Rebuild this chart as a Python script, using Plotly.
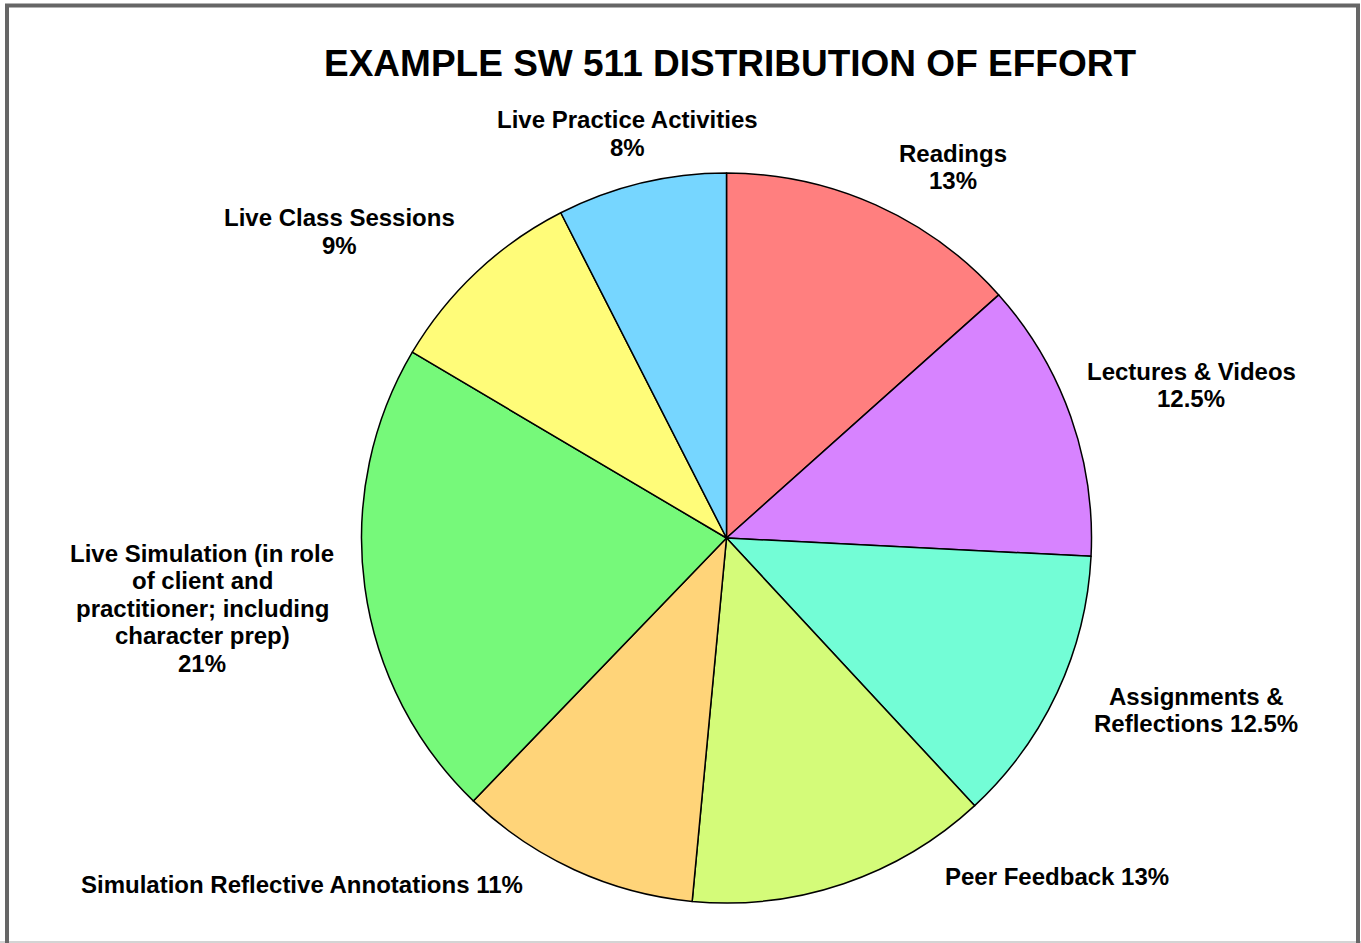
import plotly.graph_objects as go

# ---- data ----
categories = [
    "Readings",
    "Lectures & Videos",
    "Assignments & Reflections",
    "Peer Feedback",
    "Simulation Reflective Annotations",
    "Live Simulation (in role of client and practitioner; including character prep)",
    "Live Class Sessions",
    "Live Practice Activities",
]
# slice sizes as read from the drawn wedges (percent of effort)
values = [13.4, 12.4, 12.3, 13.4, 10.7, 21.3, 9.0, 7.5]
label_lines = [
    ["Readings", "13%"],
    ["Lectures & Videos", "12.5%"],
    ["Assignments &", "Reflections 12.5%"],
    ["Peer Feedback 13%"],
    ["Simulation Reflective Annotations 11%"],
    ["Live Simulation (in role", "of client and", "practitioner; including", "character prep)", "21%"],
    ["Live Class Sessions", "9%"],
    ["Live Practice Activities", "8%"],
]

# ---- styles / layout ----
colors = ["#FF7F7F", "#D783FF", "#73FDD6", "#D4FB79",
          "#FFD479", "#76F97A", "#FFFC79", "#76D6FF"]
W, H = 1361, 943
# label positions in pixels: center x, first-line center y (layout only)
label_px = [(953, 153), (1191, 371), (1196, 696), (1057, 876),
            (302, 884), (202, 553), (339, 218), (627, 120)]
line_step = 27.5
label_font = dict(family="Liberation Sans, Arial", size=24, color="black")

cx, cy, r = 726.5, 538, 365

fig = go.Figure(go.Pie(
    labels=categories,
    values=values,
    sort=False,
    direction="clockwise",
    rotation=0,
    marker=dict(colors=colors, line=dict(color="black", width=1.5)),
    textinfo="none",
    hoverinfo="label",
    showlegend=False,
    domain=dict(x=[(cx - r) / W, (cx + r) / W], y=[1 - (cy + r) / H, 1 - (cy - r) / H]),
))

annotations = []
for lines, (px, py) in zip(label_lines, label_px):
    for i, ln in enumerate(lines):
        annotations.append(dict(
            x=px / W, y=1 - (py + i * line_step) / H, xref="paper", yref="paper",
            text="<b>" + ln + "</b>", showarrow=False, xanchor="center", yanchor="middle",
            align="center", font=label_font,
        ))

annotations.append(dict(
    x=730 / W, y=1 - 64 / H, xref="paper", yref="paper",
    text="<b>EXAMPLE SW 511 DISTRIBUTION OF EFFORT</b>", showarrow=False,
    xanchor="center", yanchor="middle",
    font=dict(family="Liberation Sans, Arial", size=37, color="black"),
))

shapes = [
    dict(type="line", xref="paper", yref="paper", x0=0, x1=1, y0=1 - 942 / H, y1=1 - 942 / H,
         line=dict(color="#d4d4d4", width=2)),
    dict(type="line", xref="paper", yref="paper", x0=7 / W, x1=7 / W, y0=0, y1=1 - 5.5 / H,
         line=dict(color="#666666", width=4)),
    dict(type="line", xref="paper", yref="paper", x0=1358 / W, x1=1358 / W, y0=0, y1=1 - 5.5 / H,
         line=dict(color="#666666", width=4)),
    dict(type="line", xref="paper", yref="paper", x0=5 / W, x1=1360 / W, y0=1 - 5.5 / H, y1=1 - 5.5 / H,
         line=dict(color="#666666", width=4)),
]

fig.update_layout(
    width=W, height=H, autosize=False,
    margin=dict(l=0, r=0, t=0, b=0),
    paper_bgcolor="white", plot_bgcolor="white",
    annotations=annotations, shapes=shapes,
)

fig.write_html("out.html")
